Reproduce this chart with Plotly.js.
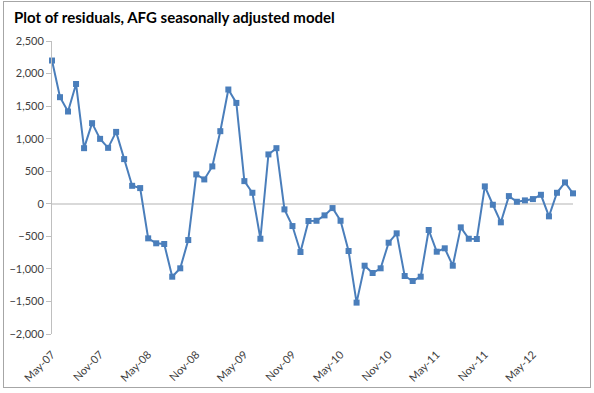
<!DOCTYPE html>
<html>
<head>
<meta charset="utf-8">
<script src="https://cdn.plot.ly/plotly-3.0.1.min.js"></script>
<style>
  html, body { margin: 0; padding: 0; background: #ffffff; }
  #wrap { position: relative; width: 594px; height: 393px; }
  #chart { width: 594px; height: 393px; }
  #frame { position: absolute; left: 3px; top: 1px; width: 586px; height: 385px; border: 1px solid #a6a6a6; pointer-events: none; }
</style>
</head>
<body>
<div id="wrap">
  <div id="chart"></div>
  <div id="frame"></div>
</div>
<script>
// Month categories (May-07 .. Oct-12)
const months = [
  "May-07","Jun-07","Jul-07","Aug-07","Sep-07","Oct-07","Nov-07","Dec-07",
  "Jan-08","Feb-08","Mar-08","Apr-08","May-08","Jun-08","Jul-08","Aug-08","Sep-08","Oct-08","Nov-08","Dec-08",
  "Jan-09","Feb-09","Mar-09","Apr-09","May-09","Jun-09","Jul-09","Aug-09","Sep-09","Oct-09","Nov-09","Dec-09",
  "Jan-10","Feb-10","Mar-10","Apr-10","May-10","Jun-10","Jul-10","Aug-10","Sep-10","Oct-10","Nov-10","Dec-10",
  "Jan-11","Feb-11","Mar-11","Apr-11","May-11","Jun-11","Jul-11","Aug-11","Sep-11","Oct-11","Nov-11","Dec-11",
  "Jan-12","Feb-12","Mar-12","Apr-12","May-12","Jun-12","Jul-12","Aug-12","Sep-12","Oct-12"
];

// Residuals
const residuals = [
  2200, 1637, 1417, 1840, 854, 1238, 997, 859,
  1104, 686, 276, 241, -531, -607, -618, -1120, -991, -557, 451, 374,
  574, 1115, 1755, 1549, 348, 169, -537, 758, 854, -86, -342, -741,
  -265, -261, -178, -66, -261, -725, -1518, -951, -1063, -991, -598, -454,
  -1109, -1186, -1120, -403, -736, -684, -951, -362, -537, -541, 267, -15,
  -285, 118, 31, 52, 72, 138, -193, 169, 328, 160
];

// Labelled ticks on the horizontal axis
const tickMonths = ["May-07","Nov-07","May-08","Nov-08","May-09","Nov-09","May-10","Nov-10","May-11","Nov-11","May-12"];
const yTicks = [-2000, -1500, -1000, -500, 0, 500, 1000, 1500, 2000, 2500];

const trace = {
  type: "scatter",
  mode: "lines+markers",
  x: months,
  y: residuals,
  line: { color: "#4a7ebb", width: 2 },
  marker: { symbol: "square", size: 6, color: "#4a7ebb" },
  cliponaxis: false,
  hoverinfo: "x+y"
};

const layout = {
  width: 594,
  height: 393,
  margin: { l: 52, r: 21, t: 41, b: 59 },
  paper_bgcolor: "#ffffff",
  plot_bgcolor: "#ffffff",
  showlegend: false,
  font: { family: "Lato, 'Open Sans', sans-serif", color: "#404040", size: 11 },
  title: {
    text: "<b>Plot of residuals, AFG seasonally adjusted model</b>",
    font: { family: "Lato, 'Open Sans', sans-serif", size: 15, color: "#000000" },
    x: 14 / 594, xanchor: "left", xref: "container",
    y: 1 - 18 / 393, yanchor: "middle", yref: "container"
  },
  xaxis: {
    type: "category",
    range: [0, months.length - 1],
    tickmode: "array",
    tickvals: tickMonths,
    ticktext: tickMonths,
    tickangle: -45,
    ticks: "outside",
    ticklen: 9,
    tickcolor: "rgba(0,0,0,0)",
    showgrid: false,
    showline: false,
    zeroline: false,
    tickfont: { family: "Lato, 'Open Sans', sans-serif", size: 11, color: "#404040" },
    fixedrange: true
  },
  yaxis: {
    range: [-2000, 2500],
    tickmode: "array",
    tickvals: yTicks,
    tickformat: ",d",
    ticks: "outside",
    ticklen: 5,
    tickcolor: "#bfbfbf",
    showgrid: false,
    showline: true,
    linecolor: "#bfbfbf",
    linewidth: 1,
    zeroline: true,
    zerolinecolor: "#d9d9d9",
    zerolinewidth: 2,
    tickfont: { family: "Lato, 'Open Sans', sans-serif", size: 11, color: "#404040" },
    fixedrange: true
  }
};

Plotly.newPlot("chart", [trace], layout, { displayModeBar: false, staticPlot: true });
</script>
</body>
</html>
